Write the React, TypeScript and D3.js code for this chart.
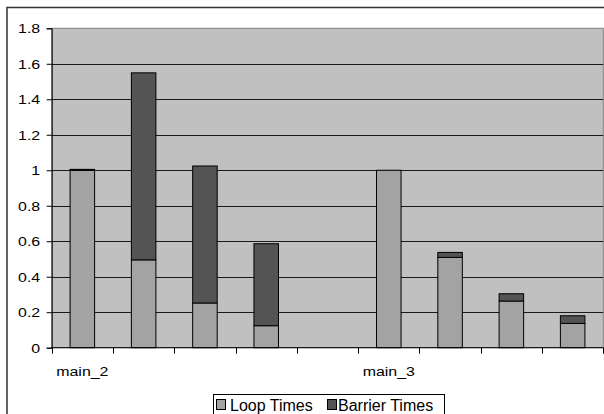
import { useEffect, useRef } from "react";
import * as d3 from "d3";

// Excel-style stacked column chart: loop vs barrier time, main_2 / main_3
const categories = ["main_2", "c1", "c2", "c3", "c4", "main_3", "c6", "c7", "c8"];
const categoryLabels = ["main_2", "", "", "", "", "main_3", "", "", ""];
const loopTimes = [1.0, 0.495, 0.252, 0.124, 0, 1.0, 0.509, 0.263, 0.137];
const barrierTimes = [0.005, 1.054, 0.772, 0.462, 0, 0, 0.028, 0.041, 0.043];
const yTicks = [0, 0.2, 0.4, 0.6, 0.8, 1, 1.2, 1.4, 1.6, 1.8];
const seriesNames = ["Loop Times", "Barrier Times"];

const LOOP_FILL = "#a3a3a3";
const BARRIER_FILL = "#545454";
const PLOT_BG = "#c0c0c0";
const FONT = "'Liberation Sans', Arial, sans-serif";
const AXIS_FONT = 13.5;
// the source picture's axis labels are drawn a bit wide
const AXIS_STRETCH = 1.18;
const LEGEND_FONT = 16;

export default function App() {
  const ref = useRef<SVGSVGElement | null>(null);

  useEffect(() => {
    const el = ref.current;
    if (!el) return;
    const svg = d3.select(el);
    svg.selectAll("*").remove();

    const W = 604;
    const H = 414;
    const plot = { left: 51.7, top: 28.3, right: 603.3, bottom: 347.7 };

    // outer chart frame (runs past the bottom/right of the picture)
    svg
      .append("rect")
      .attr("x", 7)
      .attr("y", 7.5)
      .attr("width", W + 10)
      .attr("height", H + 10)
      .attr("fill", "#fff")
      .attr("stroke", "#333")
      .attr("stroke-width", 1.5);

    const x = d3
      .scaleBand<string>()
      .domain(categories)
      .range([plot.left, plot.right])
      .paddingInner(0)
      .paddingOuter(0);
    const y = d3.scaleLinear().domain([0, 1.8]).range([plot.bottom, plot.top]);

    svg
      .append("rect")
      .attr("x", plot.left)
      .attr("y", plot.top)
      .attr("width", plot.right - plot.left)
      .attr("height", plot.bottom - plot.top)
      .attr("fill", PLOT_BG)
      .attr("stroke", "#808080")
      .attr("stroke-width", 1);

    // gridlines
    svg
      .append("g")
      .selectAll("line")
      .data(yTicks.filter((t) => t > 0 && t < 1.8))
      .join("line")
      .attr("x1", plot.left)
      .attr("x2", plot.right)
      .attr("y1", (d) => Math.round(y(d)) + 0.5)
      .attr("y2", (d) => Math.round(y(d)) + 0.5)
      .attr("stroke", "#1a1a1a")
      .attr("stroke-width", 1);

    // stacked bars
    const bw = x.bandwidth() * 0.4;
    const bars = svg.append("g");
    categories.forEach((c, i) => {
      const cx = (x(c) ?? 0) + x.bandwidth() / 2;
      const loop = loopTimes[i];
      const bar = barrierTimes[i];
      if (loop > 0) {
        bars
          .append("rect")
          .attr("x", cx - bw / 2)
          .attr("y", y(loop))
          .attr("width", bw)
          .attr("height", y(0) - y(loop))
          .attr("fill", LOOP_FILL)
          .attr("stroke", "#000")
          .attr("stroke-width", 1);
      }
      if (bar > 0) {
        bars
          .append("rect")
          .attr("x", cx - bw / 2)
          .attr("y", y(loop + bar))
          .attr("width", bw)
          .attr("height", y(loop) - y(loop + bar))
          .attr("fill", BARRIER_FILL)
          .attr("stroke", "#000")
          .attr("stroke-width", 1);
      }
    });

    // y axis
    const yAxis = svg
      .append("g")
      .attr("transform", `translate(${plot.left},0)`)
      .call(
        d3
          .axisLeft(y)
          .tickValues(yTicks)
          .tickSize(5)
          .tickPadding(6)
          .tickFormat((d) => String(d))
      );
    yAxis.select(".domain").attr("stroke", "#000");
    yAxis.selectAll(".tick line").attr("stroke", "#000");
    yAxis
      .selectAll("text")
      .attr("fill", "#000")
      .attr("font-family", FONT)
      .attr("font-size", AXIS_FONT)
      .attr("x", -11.5 / AXIS_STRETCH)
      .attr("transform", `scale(${AXIS_STRETCH},1)`);

    // x axis: ticks at category boundaries
    const xAxis = svg.append("g");
    xAxis
      .append("line")
      .attr("x1", plot.left)
      .attr("x2", plot.right)
      .attr("y1", plot.bottom)
      .attr("y2", plot.bottom)
      .attr("stroke", "#000");
    const bounds = categories.map((c) => x(c) ?? 0).concat([plot.right]);
    xAxis
      .selectAll("line.tk")
      .data(bounds)
      .join("line")
      .attr("class", "tk")
      .attr("x1", (d) => Math.round(d) + 0.5)
      .attr("x2", (d) => Math.round(d) + 0.5)
      .attr("y1", plot.bottom)
      .attr("y2", plot.bottom + 6)
      .attr("stroke", "#000");
    xAxis
      .selectAll("text")
      .data(categories)
      .join("text")
      .attr(
        "transform",
        (d) =>
          `translate(${(x(d) ?? 0) + x.bandwidth() / 2},376) scale(${AXIS_STRETCH},1)`
      )
      .attr("text-anchor", "middle")
      .attr("font-family", FONT)
      .attr("font-size", AXIS_FONT)
      .attr("fill", "#000")
      .text((_, i) => categoryLabels[i]);

    // legend
    const lg = svg.append("g").attr("transform", "translate(213,394)");
    lg.append("rect")
      .attr("x", 0.5)
      .attr("y", 0.5)
      .attr("width", 231)
      .attr("height", 26)
      .attr("fill", "#fff")
      .attr("stroke", "#000")
      .attr("stroke-width", 1);
    const entries = [
      { name: seriesNames[0], fill: LOOP_FILL, sx: 3, tx: 17 },
      { name: seriesNames[1], fill: BARRIER_FILL, sx: 114, tx: 125 },
    ];
    entries.forEach((e) => {
      lg.append("rect")
        .attr("x", e.sx + 0.5)
        .attr("y", 5.5)
        .attr("width", 9)
        .attr("height", 10)
        .attr("fill", e.fill)
        .attr("stroke", "#000");
      lg.append("text")
        .attr("x", e.tx)
        .attr("y", 17)
        .attr("font-family", FONT)
        .attr("font-size", LEGEND_FONT)
        .attr("fill", "#000")
        .text(e.name);
    });
  }, []);

  return (
    <svg
      ref={ref}
      width={604}
      height={414}
      style={{ position: "absolute", left: 0, top: 0, display: "block" }}
    />
  );
}
